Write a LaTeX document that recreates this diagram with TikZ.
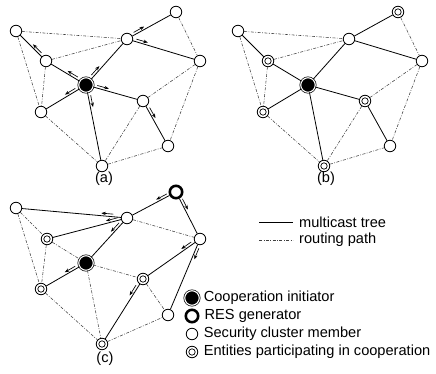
\documentclass[tikz,border=0pt]{standalone}
\usepackage{fontspec}
\setmainfont{Liberation Sans}
\usepackage{tikz}
\usetikzlibrary{arrows.meta, positioning, calc}
\definecolor{Ink}{HTML}{000000}
\definecolor{RouteGray}{HTML}{404040}
% short arrow running beside a tree edge: source, target, side (90/-90), start, end
\newcommand{\flowmark}[5]{\draw[flow] ($(#1)!#4!(#2)!2.6pt!#3:(#2)$) -- ($(#1)!#5!(#2)!2.6pt!#3:(#2)$);}

\begin{document}
\begin{tikzpicture}[x=1pt, y=-1pt, every node/.style={font=\fontsize{14.6}{17}\selectfont}]
  \tikzstyle{member}=[circle, draw=Ink, line width=0.8pt, fill=white, minimum size=11.5pt, inner sep=0pt]
  \tikzstyle{entity}=[member, path picture={\draw[line width=0.7pt] (path picture bounding box.center) circle (3.2pt);}]
  \tikzstyle{initiator}=[circle, draw=Ink, fill=Ink, line width=0.7pt, double=white, double distance=1.1pt, minimum size=14.5pt, inner sep=0pt]
  \tikzstyle{resgen}=[circle, draw=Ink, line width=2.6pt, fill=white, minimum size=12.4pt, inner sep=0pt]
  \tikzstyle{tree}=[line width=0.8pt, draw=Ink]
  \tikzstyle{route}=[line width=0.55pt, draw=RouteGray, dash pattern=on 3pt off 1.5pt on 0.8pt off 1.5pt]
  \tikzstyle{flow}=[line width=0.65pt, draw=Ink, -{Stealth[length=4.5pt, width=3.4pt]}]

  \useasboundingbox (0,0) rectangle (436,374);

  % (a) multicast tree from the initiator
  \node[member] (a-nw) at (16,31) {};
  \node[member] (a-top) at (176,12) {};
  \node[member] (a-lf) at (46,61) {};
  \node[member] (a-mid) at (127,39) {};
  \node[member] (a-rt) at (200,61) {};
  \node[initiator] (a-ini) at (86,85) {};
  \node[member] (a-lo) at (41,112) {};
  \node[member] (a-ce) at (143,101) {};
  \node[member] (a-br) at (168,146) {};
  \node[member] (a-bot) at (102,166) {};
  \node (a-label) at (104,179) {(a)};

  \draw[tree] (a-lf) -- (a-nw) (a-ini) -- (a-lf) (a-ini) -- (a-mid) (a-mid) -- (a-top) (a-mid) -- (a-rt)
    (a-ini) -- (a-ce) (a-ce) -- (a-br) (a-ini) -- (a-lo) (a-ini) -- (a-bot);
  \draw[route] (a-nw) -- (a-mid) (a-nw) -- (a-lo) (a-lf) -- (a-lo) (a-lf) -- (a-mid) (a-top) -- (a-rt)
    (a-rt) -- (a-ce) (a-rt) -- (a-br) (a-ce) -- (a-bot) (a-lo) -- (a-bot) (a-bot) -- (a-br);

  \flowmark{a-lf}{a-nw}{-90}{9pt}{21pt}
  \flowmark{a-ini}{a-lf}{-90}{11pt}{23pt}
  \flowmark{a-ini}{a-mid}{90}{11pt}{23pt}
  \flowmark{a-ini}{a-ce}{90}{11pt}{23pt}
  \flowmark{a-ini}{a-lo}{-90}{11pt}{23pt}
  \flowmark{a-ini}{a-bot}{90}{11pt}{23pt}
  \flowmark{a-mid}{a-top}{90}{9pt}{21pt}
  \flowmark{a-mid}{a-rt}{90}{9pt}{21pt}
  \flowmark{a-ce}{a-br}{90}{9pt}{21pt}

  % (b) entities taking part
  \begin{scope}[shift={(222,0)}]
    \node[member] (b-nw) at (16,31) {};
    \node[entity] (b-top) at (176,12) {};
    \node[entity] (b-lf) at (46,61) {};
    \node[member] (b-mid) at (127,39) {};
    \node[member] (b-rt) at (200,61) {};
    \node[initiator] (b-ini) at (86,85) {};
    \node[entity] (b-lo) at (41,112) {};
    \node[entity] (b-ce) at (143,101) {};
    \node[member] (b-br) at (168,146) {};
    \node[entity] (b-bot) at (102,166) {};
    \node (b-label) at (104,179) {(b)};

    \draw[tree] (b-lf) -- (b-nw) (b-ini) -- (b-lf) (b-ini) -- (b-mid) (b-mid) -- (b-top) (b-mid) -- (b-rt)
      (b-ini) -- (b-ce) (b-ce) -- (b-br) (b-ini) -- (b-lo) (b-ini) -- (b-bot);
    \draw[route] (b-nw) -- (b-mid) (b-nw) -- (b-lo) (b-lf) -- (b-lo) (b-lf) -- (b-mid) (b-top) -- (b-rt)
      (b-rt) -- (b-ce) (b-rt) -- (b-br) (b-ce) -- (b-bot) (b-lo) -- (b-bot) (b-bot) -- (b-br);
  \end{scope}

  % (c) tree rooted at the RES generator
  \begin{scope}[shift={(0,178)}]
    \node[member] (c-nw) at (16,30) {};
    \node[resgen] (c-top) at (176,14) {};
    \node[entity] (c-lf) at (47,61) {};
    \node[member] (c-mid) at (127,40) {};
    \node[member] (c-rt) at (200,61) {};
    \node[initiator] (c-ini) at (86,85) {};
    \node[entity] (c-lo) at (41,111) {};
    \node[entity] (c-ce) at (143,101) {};
    \node[member] (c-br) at (168,137) {};
    \node[entity] (c-bot) at (102,166) {};
    \node (c-label) at (105,181) {(c)};

    \draw[tree] (c-nw) -- (c-mid) (c-mid) -- (c-lf) (c-mid) -- (c-ini) (c-mid) -- (c-top) (c-top) -- (c-rt)
      (c-ini) -- (c-lo) (c-rt) -- (c-ce) (c-ce) -- (c-bot) (c-rt) -- (c-br);
    \draw[route] (c-nw) -- (c-lf) (c-nw) -- (c-lo) (c-lf) -- (c-lo) (c-lf) -- (c-ini) (c-ini) -- (c-bot)
      (c-ini) -- (c-ce) (c-mid) -- (c-rt) (c-lo) -- (c-bot) (c-bot) -- (c-br) (c-ce) -- (c-br);

    \flowmark{c-top}{c-mid}{-90}{9pt}{21pt}
    \flowmark{c-top}{c-rt}{90}{9pt}{21pt}
    \flowmark{c-rt}{c-ce}{-90}{9pt}{21pt}
    \flowmark{c-rt}{c-br}{90}{9pt}{21pt}
    \flowmark{c-mid}{c-nw}{-90}{14pt}{26pt}
    \flowmark{c-mid}{c-lf}{-90}{9pt}{21pt}
    \flowmark{c-mid}{c-ini}{-90}{9pt}{21pt}
    \flowmark{c-ini}{c-lo}{-90}{11pt}{23pt}
    \flowmark{c-ce}{c-bot}{-90}{9pt}{21pt}
  \end{scope}

  % legend
  \coordinate (treeA) at (259,222);
  \coordinate (treeB) at (293,222);
  \coordinate (routeA) at (259,240);
  \coordinate (routeB) at (293,240);
  \draw[tree] (treeA) -- (treeB);
  \draw[route] (routeA) -- (routeB);
  \node[right=5pt of treeB, inner sep=1pt] (treetext) {multicast tree};
  \node[right=5pt of routeB, inner sep=1pt] (routetext) {routing path};

  \node[initiator] (keyini) at (192,298) {};
  \node[resgen] (keyres) at (192,316) {};
  \node[member] (keymem) at (192,334) {};
  \node[entity] (keyent) at (192,352) {};
  \node[right=3pt of keyini, inner sep=1pt] (keyinitext) {Cooperation initiator};
  \node[right=4pt of keyres, inner sep=1pt] (keyrestext) {RES generator};
  \node[right=4.5pt of keymem, inner sep=1pt] (keymemtext) {Security cluster member};
  \node[right=4.5pt of keyent, inner sep=1pt] (keyenttext) {Entities participating in cooperation};
\end{tikzpicture}
\end{document}
